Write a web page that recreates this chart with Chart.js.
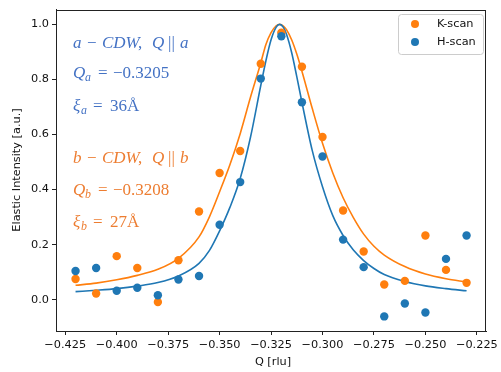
<!DOCTYPE html>
<html>
<head>
<meta charset="utf-8">
<script src="https://cdn.jsdelivr.net/npm/chart.js@4.4.1/dist/chart.umd.min.js"></script>
<style>
  html, body { margin: 0; padding: 0; background: #fff; }
  #chart { display: block; }
</style>
</head>
<body>
<canvas id="chart" width="501" height="372"></canvas>
<script>
// ---------- data ----------
const scanQ = [-0.42, -0.41, -0.40, -0.39, -0.38, -0.37, -0.36, -0.35, -0.34, -0.33,
               -0.32, -0.31, -0.30, -0.29, -0.28, -0.27, -0.26, -0.25, -0.24, -0.23];
const kScan = [0.075, 0.022, 0.158, 0.115, -0.009, 0.143, 0.320, 0.460, 0.540, 0.857,
               0.970, 0.846, 0.591, 0.324, 0.175, 0.055, 0.068, 0.233, 0.108, 0.061];
const hScan = [0.104, 0.115, 0.032, 0.043, 0.016, 0.073, 0.086, 0.272, 0.427, 0.803,
               0.957, 0.717, 0.520, 0.218, 0.118, -0.061, -0.014, -0.047, 0.148, 0.233];

// fitted curves (sampled from the drawn lines)
const fitQ = [-0.42, -0.41, -0.40, -0.39, -0.38, -0.37, -0.36, -0.355, -0.35, -0.345,
              -0.34, -0.335, -0.33, -0.3275, -0.325, -0.3225, -0.3208, -0.319, -0.3175, -0.315,
              -0.3125, -0.31, -0.305, -0.30, -0.295, -0.29, -0.285, -0.28, -0.275, -0.27,
              -0.26, -0.25, -0.24, -0.23];
const fitK = [0.052, 0.060, 0.072, 0.088, 0.110, 0.150, 0.228, 0.300, 0.392, 0.490,
              0.603, 0.735, 0.860, 0.927, 0.970, 0.995, 1.000, 0.994, 0.981, 0.944,
              0.892, 0.830, 0.695, 0.568, 0.460, 0.370, 0.298, 0.238, 0.194, 0.162,
              0.120, 0.093, 0.076, 0.064];
const fitH = [0.029, 0.034, 0.040, 0.049, 0.062, 0.086, 0.132, 0.178, 0.250, 0.335,
              0.440, 0.590, 0.778, 0.868, 0.944, 0.990, 1.000, 0.989, 0.964, 0.898,
              0.810, 0.717, 0.542, 0.410, 0.305, 0.233, 0.180, 0.142, 0.113, 0.091,
              0.066, 0.050, 0.040, 0.032];

const xTicks = [-0.425, -0.400, -0.375, -0.350, -0.325, -0.300, -0.275, -0.250, -0.225];
const yTicks = [0.0, 0.2, 0.4, 0.6, 0.8, 1.0];

const seriesNames = ["K-scan", "H-scan"];
const xTitle = "Q [rlu]";
const yTitle = "Elastic Intensity [a.u.]";

// annotation lines: [text, italic, subscript, offset from line start]
const notesA = [
    [["a", 1, 0, 0], ["−", 0, 0, 14], ["CDW", 1, 0, 29], [",", 0, 0, 65], ["Q", 1, 0, 79], ["||", 0, 0, 95], ["a", 1, 0, 107]],
    [["Q", 1, 0, 0], ["a", 1, 1, 12], ["=", 0, 0, 25], ["−0.3205", 0, 0, 40]],
    [["ξ", 1, 0, 0], ["a", 1, 1, 8], ["=", 0, 0, 20], ["36Å", 0, 0, 37]]
];
const notesB = [
    [["b", 1, 0, 0], ["−", 0, 0, 14], ["CDW", 1, 0, 29], [",", 0, 0, 65], ["Q", 1, 0, 79], ["||", 0, 0, 95], ["b", 1, 0, 107]],
    [["Q", 1, 0, 0], ["b", 1, 1, 12], ["=", 0, 0, 25], ["−0.3208", 0, 0, 40]],
    [["ξ", 1, 0, 0], ["b", 1, 1, 8], ["=", 0, 0, 20], ["27Å", 0, 0, 37]]
];

// ---------- colours / fonts ----------
const ORANGE = "#ff7f0e";
const BLUE = "#1f77b4";
const NOTE_BLUE = "#4472c4";
const NOTE_ORANGE = "#ed7d31";
const TICK_FONT = { family: "DejaVu Sans", size: 11.3 };

const pts = (xs, ys) => xs.map((x, i) => ({ x: x, y: ys[i] }));

// ---------- drawing helpers ----------
function drawNote(ctx, x, y, parts, color, size) {
    ctx.fillStyle = color;
    ctx.textAlign = "left";
    ctx.textBaseline = "alphabetic";
    parts.forEach(p => {
        const fs = p[2] ? size * 0.7 : size;
        ctx.font = (p[1] ? "italic " : "") + fs + "px 'Liberation Serif'";
        ctx.fillText(p[0], x + p[3], y + (p[2] ? size * 0.2 : 0));
    });
}

const extras = {
    id: "extras",
    afterDraw(chart) {
        const ctx = chart.ctx;
        const a = chart.chartArea;
        ctx.save();

        // frame
        ctx.strokeStyle = "#222";
        ctx.lineWidth = 1;
        ctx.strokeRect(Math.round(a.left) + 0.5, Math.round(a.top) + 0.5,
                       Math.round(a.right - a.left) - 1, Math.round(a.bottom - a.top));

        // annotations
        const size = 17;
        [48, 78, 111].forEach((y, i) => drawNote(ctx, 73, y, notesA[i], NOTE_BLUE, size));
        [163, 195, 227].forEach((y, i) => drawNote(ctx, 73, y, notesB[i], NOTE_ORANGE, size));

        // legend
        ctx.fillStyle = "rgba(255,255,255,0.8)";
        ctx.strokeStyle = "#cccccc";
        ctx.beginPath();
        ctx.roundRect(398.5, 14.5, 85, 40, 3);
        ctx.fill();
        ctx.stroke();
        [[ORANGE, 24], [BLUE, 42]].forEach((e, i) => {
            ctx.fillStyle = e[0];
            ctx.beginPath();
            ctx.arc(415, e[1], 4, 0, Math.PI * 2);
            ctx.fill();
            ctx.fillStyle = "#111";
            ctx.font = TICK_FONT.size + "px 'DejaVu Sans'";
            ctx.textBaseline = "middle";
            ctx.fillText(seriesNames[i], 437, e[1]);
        });

        // axis titles
        ctx.fillStyle = "#111";
        ctx.textAlign = "center";
        ctx.textBaseline = "middle";
        ctx.fillText(xTitle, 273, 362);
        ctx.translate(17, 170);
        ctx.rotate(-Math.PI / 2);
        ctx.fillText(yTitle, 0, 0);

        ctx.restore();
    }
};

// ---------- chart ----------
new Chart(document.getElementById("chart"), {
    type: "scatter",
    data: {
        datasets: [
            { label: seriesNames[1], data: pts(scanQ, hScan), backgroundColor: BLUE, borderWidth: 0,
              pointRadius: 4.2, order: 0 },
            { label: seriesNames[0], data: pts(scanQ, kScan), backgroundColor: ORANGE, borderWidth: 0,
              pointRadius: 4.2, order: 1 },
            { data: pts(fitQ, fitH), showLine: true, borderColor: BLUE, borderWidth: 1.6,
              pointRadius: 0, cubicInterpolationMode: "monotone", order: 2 },
            { data: pts(fitQ, fitK), showLine: true, borderColor: ORANGE, borderWidth: 1.6,
              pointRadius: 0, cubicInterpolationMode: "monotone", order: 3 }
        ]
    },
    options: {
        responsive: false,
        animation: false,
        events: [],
        layout: { padding: { top: 8, right: 11, left: 0, bottom: 0 } },
        plugins: { legend: { display: false }, tooltip: { enabled: false } },
        scales: {
            x: {
                type: "linear",
                min: -0.4295,
                max: -0.2205,
                afterFit: s => { s.height = 41; },
                afterBuildTicks: s => { s.ticks = xTicks.map(v => ({ value: v })); },
                ticks: {
                    autoSkip: false, maxRotation: 0, padding: 3, color: "#111", font: TICK_FONT,
                    callback: v => v.toFixed(3).replace("-", "−")
                },
                grid: { drawOnChartArea: false, drawTicks: true, tickLength: 4, color: "#222" },
                border: { color: "#222", width: 1 }
            },
            y: {
                min: -0.114,
                max: 1.053,
                afterFit: s => { s.width = 56; },
                afterBuildTicks: s => { s.ticks = yTicks.map(v => ({ value: v })); },
                ticks: {
                    autoSkip: false, padding: 3, color: "#111", font: TICK_FONT,
                    callback: v => v.toFixed(1)
                },
                grid: { drawOnChartArea: false, drawTicks: true, tickLength: 4, color: "#222" },
                border: { color: "#222", width: 1 }
            }
        }
    },
    plugins: [extras]
});
</script>
</body>
</html>
